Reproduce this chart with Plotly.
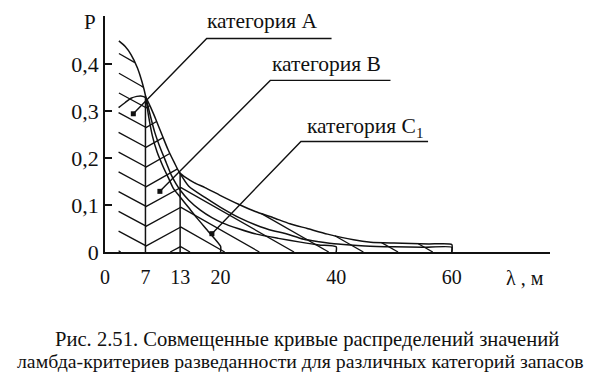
import numpy as np
import plotly.graph_objects as go

# ---------------- data ----------------
# category A curve (steep, starts high, ends at 20 m)
cat_a_x = [2.4, 3.5, 4.5, 5.6, 6.4, 7.05, 7.5, 8.2, 9.0, 10.0, 11.0, 11.8, 13.0, 14.5, 16.0, 18.0, 20.0]
cat_a_y = [0.449, 0.437, 0.420, 0.392, 0.362, 0.330, 0.292, 0.247, 0.213, 0.183, 0.157, 0.136, 0.117, 0.094, 0.071, 0.042, 0.012]

# category B curve (ends at 40 m)
cat_b_x = [7.05, 7.8, 8.6, 9.6, 10.6, 11.5, 12.3, 13.0, 14.5, 16.5, 18.5, 20.3, 23.0, 26.2, 30.0, 33.8, 37.0, 40.0]
cat_b_y = [0.330, 0.292, 0.255, 0.220, 0.190, 0.163, 0.145, 0.132, 0.110, 0.089, 0.073, 0.062, 0.050, 0.038, 0.029, 0.021, 0.015, 0.011]

# category C1 curves (upper and lower, end at 60 m)
cat_c1_x = [2.35, 3.5, 4.5, 5.5, 6.2, 7.05, 8.0, 8.8, 10.0, 10.9, 12.0, 12.9, 14.0, 15.5, 17.3, 20.0, 23.2, 26.0,
            29.1, 32.0, 35.0, 38.5, 43.0, 46.0, 50.0, 53.0, 56.0, 60.0]
cat_c1_y = [0.307, 0.318, 0.327, 0.331, 0.332, 0.328, 0.305, 0.282, 0.245, 0.218, 0.190, 0.169, 0.158, 0.147, 0.137,
            0.120, 0.101, 0.086, 0.073, 0.060, 0.050, 0.038, 0.026, 0.021, 0.019, 0.018, 0.017, 0.016]
cat_c1_low_x = [12.9, 14.5, 17.3, 20.0, 23.2, 26.0, 29.1, 31.0, 34.4, 37.0, 40.3, 45.0, 50.0, 55.0, 60.0]
cat_c1_low_y = [0.169, 0.140, 0.116, 0.095, 0.073, 0.058, 0.045, 0.040, 0.027, 0.022, 0.017, 0.013, 0.011, 0.010, 0.010]

# class boundaries (vertical lines)
boundaries = [7, 13]

# axis ticks
x_ticks = [0, 7, 13, 20, 40, 60]
x_tick_text = ["0", "7", "13", "20", "40", "60"]
y_ticks = [0, 0.1, 0.2, 0.3, 0.4]
y_tick_text = ["0", "0,1", "0,2", "0,3", "0,4"]

# labels with leader lines: text, text position, underline start/end, pointed location
labels = ["категория A", "категория B", "категория C<sub>1</sub>"]
label_text_x = [27.2, 38.4, 45.0]
label_text_y = [0.492, 0.399, 0.265]
leader_knee_x = [17.6, 28.6, 33.9]
leader_end_x = [39.2, 49.4, 55.9]
leader_y = [0.454, 0.365, 0.235]
point_x = [4.9, 9.5, 18.5]
point_y = [0.294, 0.129, 0.039]

caption_1 = "Рис. 2.51. Совмещенные кривые распределений значений"
caption_2 = "ламбда-критериев разведанности для различных категорий запасов"

# ---------------- figure ----------------
FONT = "Liberation Serif, Times New Roman, serif"
INK = "#111111"
curves = [(cat_a_x, cat_a_y), (cat_b_x, cat_b_y), (cat_c1_x, cat_c1_y), (cat_c1_low_x, cat_c1_low_y)]

fig = go.Figure()

# hatching: zigzag lines clipped under the envelope of all curves
xs = np.arange(min(c[0][0] for c in curves), 60.0001, 0.02)
env = np.max([np.interp(xs, cx, cy, left=0, right=0) for cx, cy in curves], axis=0)
b0, b1 = boundaries
k = 0.007
zig = np.where(xs < b0, k * (b0 - xs), np.where(xs <= b1, k * (xs - b0), k * (b1 - b0) - k * (xs - b1)))
hx, hy = [], []
for n in range(-2, 13):
    c = 0.012 + 0.042 * n
    yy = c + zig
    m = (yy >= 0) & (yy <= env)
    idx = np.flatnonzero(m)
    if idx.size == 0:
        continue
    splits = np.split(idx, np.flatnonzero(np.diff(idx) > 1) + 1)
    for run in splits:
        if run.size < 2:
            continue
        hx.extend(xs[run].tolist()); hy.extend(yy[run].tolist())
        hx.append(None); hy.append(None)
fig.add_trace(go.Scatter(x=hx, y=hy, mode="lines", line=dict(color=INK, width=1.3), hoverinfo="skip"))

# curves with end drops
for cx, cy in curves:
    fig.add_trace(go.Scatter(x=list(cx) + [cx[-1]], y=list(cy) + [0], mode="lines",
                             line=dict(color=INK, width=1.5, shape="spline", smoothing=0.6), hoverinfo="skip"))

# vertical boundaries
for b in boundaries:
    h = float(np.interp(b, xs, env))
    fig.add_trace(go.Scatter(x=[b, b], y=[0, h], mode="lines", line=dict(color=INK, width=1.5), hoverinfo="skip"))

# leaders
for i in range(len(labels)):
    fig.add_trace(go.Scatter(x=[point_x[i], leader_knee_x[i], leader_end_x[i]],
                             y=[point_y[i], leader_y[i], leader_y[i]], mode="lines",
                             line=dict(color=INK, width=1.4), hoverinfo="skip"))
    fig.add_trace(go.Scatter(x=[point_x[i]], y=[point_y[i]], mode="markers",
                             marker=dict(color=INK, size=5, symbol="square"), hoverinfo="skip"))
    fig.add_annotation(x=label_text_x[i], y=label_text_y[i], text=labels[i], showarrow=False,
                       xanchor="center", yanchor="middle", font=dict(family=FONT, size=21.5, color=INK))

fig.add_annotation(x=-0.034, y=1, yshift=8, xref="paper", yref="paper", text="P", showarrow=False,
                   xanchor="center", yanchor="top", font=dict(family=FONT, size=21, color=INK))
fig.add_annotation(x=72.7, y=0, yshift=-26, text="λ , м", showarrow=False, xanchor="center", yanchor="middle",
                   font=dict(family=FONT, size=20, color=INK))
fig.add_annotation(x=0.455, y=-0.37, xref="paper", yref="paper", text=caption_1, showarrow=False,
                   xanchor="center", yanchor="middle", font=dict(family=FONT, size=20.6, color=INK))
fig.add_annotation(x=0.44, y=-0.46, xref="paper", yref="paper", text=caption_2, showarrow=False,
                   xanchor="center", yanchor="middle", font=dict(family=FONT, size=19.8, color=INK))

# the page body has an 8 px margin, so the figure is shrunk by that amount
fig.update_layout(
    width=585, height=372,
    margin=dict(l=97, r=43, t=8, b=128, autoexpand=False),
    paper_bgcolor="white", plot_bgcolor="white", showlegend=False,
    font=dict(family=FONT, size=20, color=INK),
)
fig.update_xaxes(range=[0, 77], showline=True, linecolor=INK, linewidth=1.5, showgrid=False, zeroline=False,
                 tickvals=x_ticks, ticktext=x_tick_text, ticks="", ticklabelstandoff=6,
                 tickfont=dict(family=FONT, size=20, color=INK))
fig.update_yaxes(range=[0, 0.502], showline=True, linecolor=INK, linewidth=1.5, showgrid=False, zeroline=False,
                 tickvals=y_ticks, ticktext=y_tick_text, ticks="inside", ticklen=7, tickwidth=1.5, tickcolor=INK,
                 tickfont=dict(family=FONT, size=22, color=INK))

fig.write_html("out.html")
